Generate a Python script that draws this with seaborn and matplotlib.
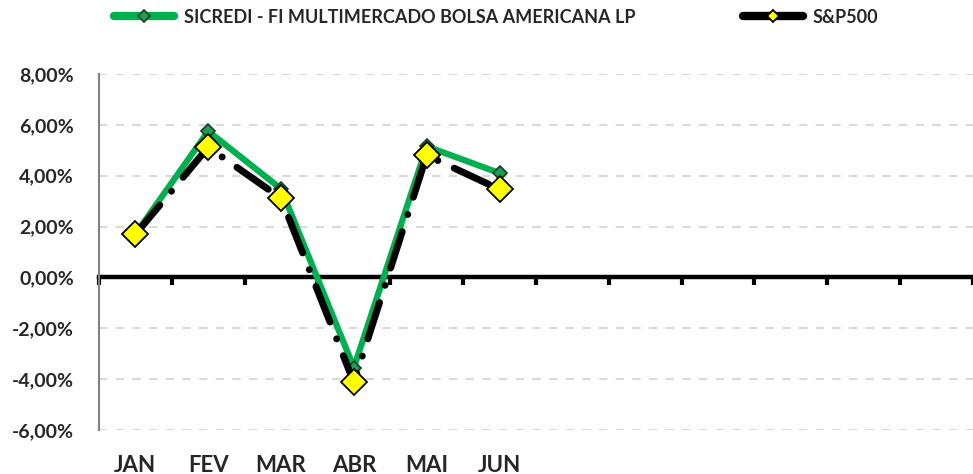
import pandas as pd
import matplotlib.pyplot as plt
from matplotlib.ticker import FuncFormatter
import seaborn as sns

meses = ['JAN', 'FEV', 'MAR', 'ABR', 'MAI', 'JUN', '', '', '', '', '', '']
sicredi = [1.70, 5.75, 3.48, -3.55, 5.15, 4.10]
sp500 = [1.69, 5.12, 3.11, -4.13, 4.80, 3.46]
nome_fundo = 'SICREDI - FI MULTIMERCADO BOLSA AMERICANA LP'
nome_indice = 'S&P500'

df = pd.DataFrame({'mes': range(len(sicredi)), 'sicredi': sicredi, 'sp500': sp500})

sns.set_style('white')
plt.rcParams['font.family'] = ['Lato', 'DejaVu Sans']
plt.rcParams['font.weight'] = 'bold'

plt.figure(figsize=(9.73, 4.74), dpi=100)
plt.subplots_adjust(left=0.1017, right=1.0, top=0.844, bottom=0.093)

sns.lineplot(data=df, x='mes', y='sicredi', color='#00B050', linewidth=4.5, marker='D', markersize=7,
             markerfacecolor='#1E9E55', markeredgecolor='#1A3A28', markeredgewidth=1.2,
             label=nome_fundo, zorder=3)
sns.lineplot(data=df, x='mes', y='sp500', color='black', linewidth=5, linestyle=(0, (5.5, 2.6, 0.01, 2.6)),
             dash_capstyle='round', marker='D', markersize=13, markerfacecolor='#FFFF00',
             markeredgecolor='black', markeredgewidth=1.3, label=nome_indice, zorder=4)  # yellow diamonds on top

ax = plt.gca()
ax.set_axisbelow(True)
plt.xlim(-0.5, len(meses) - 0.5)
plt.ylim(-6, 8)
plt.yticks(range(-6, 9, 2))
plt.xticks(range(len(meses)), meses, fontsize=16, fontweight='bold')
plt.xlabel('')
plt.ylabel('')
ax.yaxis.set_major_formatter(FuncFormatter(lambda v, p: f'{v:.2f}%'.replace('.', ',')))
plt.tick_params(axis='y', labelsize=14, direction='out', length=7, width=1.5, color='#808080', pad=11)
plt.tick_params(axis='x', length=0, pad=18)
plt.grid(axis='y', color='#D9D9D9', linestyle=(0, (4, 4)), linewidth=1.5)

for lado in ['top', 'right', 'bottom']:
    ax.spines[lado].set_visible(False)
ax.spines['left'].set_color('#808080')
ax.spines['left'].set_linewidth(1.5)

# zero line with the month boundaries
zero = ax.secondary_xaxis(6 / 14)
zero.set_zorder(2)
zero.set_xticks([i - 0.5 for i in range(len(meses) + 1)])
zero.set_xticklabels([])
zero.tick_params(direction='out', length=6, width=3, color='black')
zero.spines['bottom'].set_linewidth(3.2)
zero.spines['bottom'].set_color('black')

leg = plt.legend(loc='center', bbox_to_anchor=(0.51, 0.964), bbox_transform=plt.gcf().transFigure, ncol=2,
                 frameon=False, prop={'weight': 'bold', 'size': 13}, handlelength=3.3, handletextpad=0.55,
                 columnspacing=6.0)
for h in leg.legend_handles:
    h.set_linestyle('-')  # solid line in the key
    h.set_linewidth(6)
    h.set_solid_capstyle('round')
    h.set_markersize(6)

plt.savefig('out.png', dpi=100)
